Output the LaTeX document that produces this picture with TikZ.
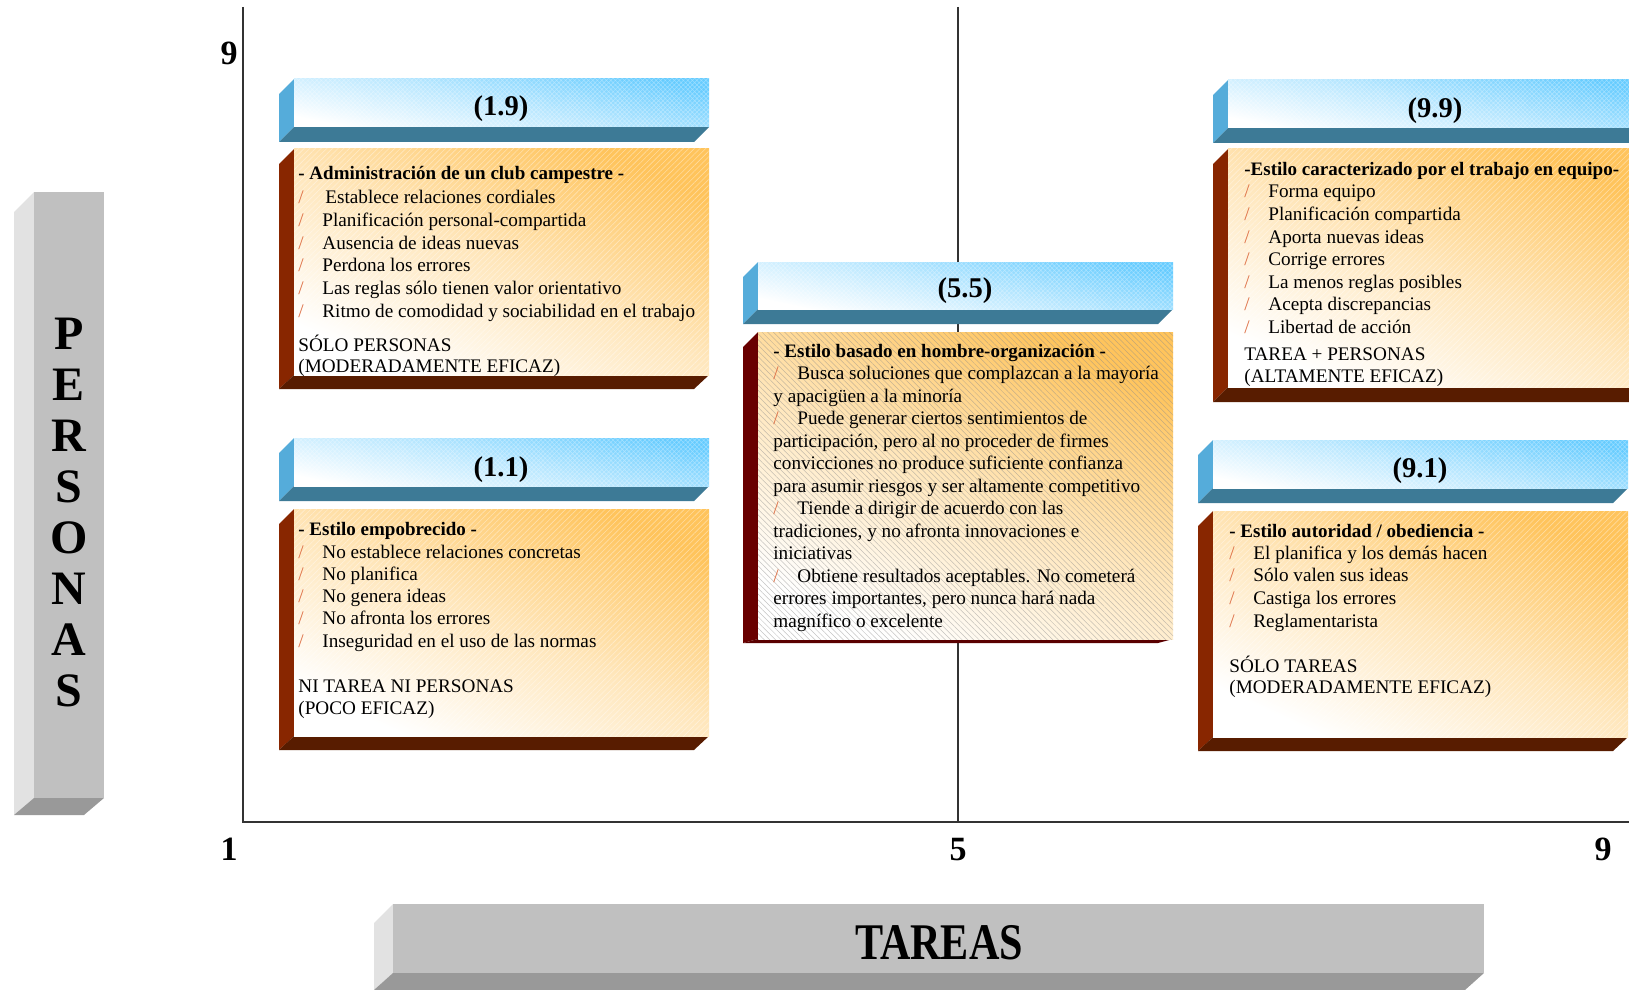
\documentclass[tikz,border=0pt]{standalone}
\usepackage{fontspec}
\setmainfont{Liberation Serif}
\usepackage{graphicx}
\usetikzlibrary{patterns.meta}

\definecolor{skyb}{RGB}{102,204,255}
\definecolor{skyside}{RGB}{85,172,218}
\definecolor{skybot}{RGB}{61,122,150}
\definecolor{peach}{RGB}{255,196,92}
\definecolor{rustside}{RGB}{136,38,0}
\definecolor{rustbot}{RGB}{88,28,0}
\definecolor{wineside}{RGB}{105,0,0}
\definecolor{winebot}{RGB}{90,0,0}
\definecolor{barface}{RGB}{192,192,192}
\definecolor{barside}{RGB}{226,226,226}
\definecolor{barbot}{RGB}{153,153,153}
\definecolor{bulc}{RGB}{222,112,70}
\definecolor{axisc}{RGB}{51,51,51}

\tikzset{
  axisline/.style={draw=axisc, line width=0.7pt},
  hdrface/.style={top color=skyb, bottom color=white, middle color=skyb!45, shading angle=-12},
  hdrgrain/.style={pattern={Hatch[angle=45,distance=1.6pt,line width=0.25pt]}, pattern color=white, opacity=0.35},
  cardface/.style={top color=peach, bottom color=white, middle color=peach!42, shading angle=-25},
  cardgrain/.style={pattern={Lines[angle=45,distance=2pt,line width=0.3pt]}, pattern color=white, opacity=0.4},
  cardhatch/.style={pattern={Lines[angle=-45,distance=2pt,line width=0.25pt]}, pattern color=black!45, opacity=0.5},
  txt/.style={anchor=base west, inner sep=0pt, font=\fontsize{9.6}{11}\selectfont},
  hd/.style={txt, font=\fontsize{9.5}{11}\selectfont\bfseries},
  ttl/.style={anchor=base, inner sep=0pt, font=\fontsize{14.3}{16}\selectfont\bfseries},
  num/.style={anchor=base, inner sep=0pt, font=\fontsize{17}{20}\selectfont\bfseries},
  bigl/.style={anchor=base, inner sep=0pt, font=\fontsize{24}{28}\selectfont\bfseries},
  bigt/.style={anchor=base, inner sep=0pt, font=\fontsize{25.7}{30}\selectfont\bfseries},
}

\newcommand{\bul}{\makebox[12pt][l]{\textcolor{bulc}{/}}}
% front face (#1,#2)-(#3,#4), depth #5 to the left and #6 down
\newcommand{\slab}[8]{%
  \fill[#7] (#1,#2) -- (#1-#5,#2+#5) -- (#1-#5,#4+#6) -- (#1,#4) -- cycle;
  \fill[#8] (#1,#4) -- (#1-#5,#4+#6) -- (#3-#5,#4+#6) -- (#3,#4) -- cycle;}
\newcommand{\hdrbox}[4]{\slab{#1}{#2}{#3}{#4}{15}{15}{skyside}{skybot}
  \path[hdrface] (#1,#2) rectangle (#3,#4);
  \fill[hdrgrain] (#1,#2) rectangle (#3,#4);}
\newcommand{\card}[8]{\slab{#1}{#2}{#3}{#4}{15}{#5}{#6}{#7}
  \path[cardface] (#1,#2) rectangle (#3,#4);
  \fill[#8] (#1,#2) rectangle (#3,#4);}

\begin{document}
\begin{tikzpicture}[x=0.5pt,y=-0.5pt]
\useasboundingbox (0,0) rectangle (1629,990);

% ejes
\coordinate (ytop) at (243,7);
\coordinate (orig) at (243,822);
\coordinate (xend) at (1629,822);
\coordinate (mtop) at (958,7);
\coordinate (mbot) at (958,822);
\draw[axisline] (ytop) -- (orig) -- (xend);
\draw[axisline] (mtop) -- (mbot);
\node[num] (n9y) at (229,65) {9};
\node[num] (n1) at (229,860) {1};
\node[num] (n5) at (958,860) {5};
\node[num] (n9x) at (1603,860) {9};

% barras
\slab{34}{192}{104}{798}{20}{17}{barside}{barbot}
\fill[barface] (34,192) rectangle (104,798);
\foreach \l [count=\i] in {P,E,R,S,O,N,A,S}
  \node[bigl] (pers-\i) at (69,298+\i*51) {\l};
\slab{393}{904}{1484}{973}{19}{17}{barside}{barbot}
\fill[barface] (393,904) rectangle (1484,973);
\node[bigt] (tareas) at (939,959) {\scalebox{0.82}[1]{TAREAS}};

% (1.9)
\hdrbox{294}{79}{709}{127}
\node[ttl] (t19) at (501,116) {(1.9)};
\card{294}{149}{709}{375}{14}{rustside}{rustbot}{cardgrain}
\node[hd] (h19) at (298,179) {- Administración de un club campestre -};
\foreach \t [count=\i] in {\hspace{1.5pt}Establece relaciones cordiales,
    Planificación personal-compartida, Ausencia de ideas nuevas,
    Perdona los errores, Las reglas sólo tienen valor orientativo,
    Ritmo de comodidad y sociabilidad en el trabajo}
  \node[txt] (b19-\i) at (298,181.4+\i*22.6) {\bul\t};
\node[txt] (f19a) at (298,351) {SÓLO PERSONAS};
\node[txt] (f19b) at (298,372) {(MODERADAMENTE EFICAZ)};

% (1.1)
\hdrbox{294}{438}{709}{486}
\node[ttl] (t11) at (501,476) {(1.1)};
\card{294}{509}{709}{736}{14}{rustside}{rustbot}{cardgrain}
\node[hd] (h11) at (298,535) {- Estilo empobrecido -};
\foreach \t [count=\i] in {No establece relaciones concretas, No planifica,
    No genera ideas, No afronta los errores, Inseguridad en el uso de las normas}
  \node[txt] (b11-\i) at (298,535.7+\i*22.3) {\bul\t};
\node[txt] (f11a) at (298,692) {NI TAREA NI PERSONAS};
\node[txt] (f11b) at (298,714) {(POCO EFICAZ)};

% (5.5)
\hdrbox{758}{262}{1173}{309}
\node[ttl] (t55) at (965,297) {(5.5)};
\card{758}{332}{1173}{639}{4}{wineside}{winebot}{cardhatch}
\node[hd] (h55) at (773,357) {- Estilo basado en hombre-organización -};
\foreach \t [count=\i] in {
    {\bul Busca soluciones que complazcan a la mayoría},
    {y apacigüen a la minoría},
    {\bul Puede generar ciertos sentimientos de},
    {participación, pero al no proceder de firmes},
    {convicciones no produce suficiente confianza},
    {para asumir riesgos y ser altamente competitivo},
    {\bul Tiende a dirigir de acuerdo con las},
    {tradiciones, y no afronta innovaciones e},
    {iniciativas},
    {\bul Obtiene resultados aceptables. No cometerá},
    {errores importantes, pero nunca hará nada},
    {magnífico o excelente}}
  \node[txt] (b55-\i) at (773,357+\i*22.5) {\t};

% (9.9)
\hdrbox{1228}{80}{1645}{128}
\node[ttl] (t99) at (1435,118) {(9.9)};
\card{1228}{149}{1645}{387}{15}{rustside}{rustbot}{cardgrain}
\node[hd] (h99) at (1244,176) {-Estilo caracterizado por el trabajo en equipo-};
\foreach \t [count=\i] in {Forma equipo, Planificación compartida,
    Aporta nuevas ideas, Corrige errores, La menos reglas posibles,
    Acepta discrepancias, Libertad de acción}
  \node[txt] (b99-\i) at (1244,175.5+\i*22.5) {\bul\t};
\node[txt] (f99a) at (1244,360) {TAREA + PERSONAS};
\node[txt] (f99b) at (1244,382) {(ALTAMENTE EFICAZ)};

% (9.1)
\hdrbox{1213}{440}{1628}{488}
\node[ttl] (t91) at (1420,477) {(9.1)};
\card{1213}{511}{1628}{737}{14}{rustside}{rustbot}{cardgrain}
\node[hd] (h91) at (1229,537) {- Estilo autoridad / obediencia -};
\foreach \t [count=\i] in {El planifica y los demás hacen, Sólo valen sus ideas,
    Castiga los errores, Reglamentarista}
  \node[txt] (b91-\i) at (1229,536.3+\i*22.7) {\bul\t};
\node[txt] (f91a) at (1229,672) {SÓLO TAREAS};
\node[txt] (f91b) at (1229,693) {(MODERADAMENTE EFICAZ)};
\end{tikzpicture}
\end{document}
